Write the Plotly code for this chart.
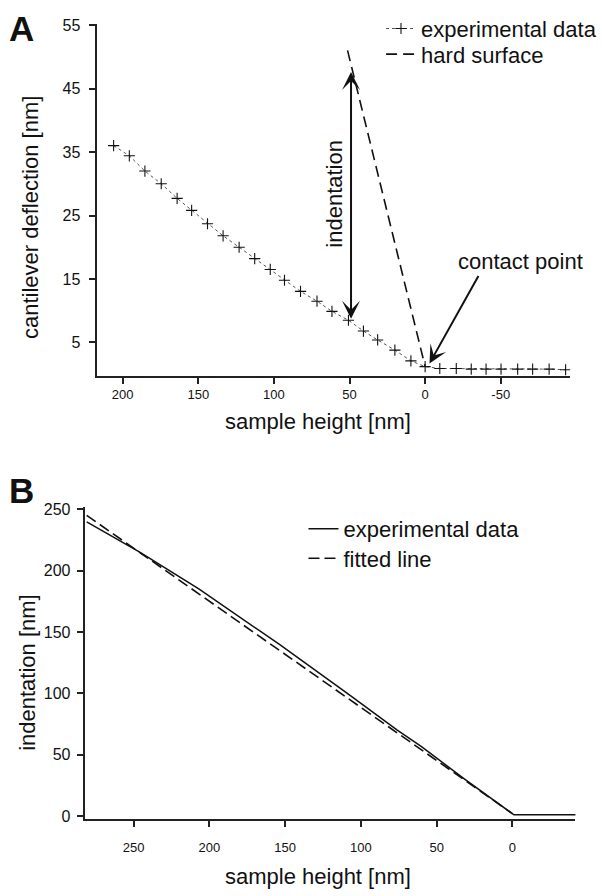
import plotly.graph_objects as go

# ---------------- Panel A data ----------------
a_height = [206, 195.6, 185.3, 174.5, 164, 154.4, 143.9, 133.6, 123, 112.7, 102.4, 93,
            82.4, 71.5, 61.6, 50.7, 40.8, 31.4, 20, 9.4, 0, -9.7, -20.6, -30.5, -40.3,
            -50.2, -61.2, -71.1, -82, -92.9]
a_deflection = [36.0, 34.4, 32.0, 30.0, 27.7, 25.8, 23.7, 21.8, 20.0, 18.2, 16.5, 14.8,
                13.05, 11.5, 9.9, 8.5, 6.8, 5.4, 3.8, 2.1, 1.2, 0.9, 0.9, 0.8, 0.8,
                0.8, 0.8, 0.8, 0.8, 0.7]
hard_height = [51.3, 0]
hard_deflection = [51.0, 1.2]
a_xticks = [200, 150, 100, 50, 0, -50]
a_xticktext = ["200", "150", "100", "50", "0", "-50"]
a_yticks = [5, 15, 25, 35, 45, 55]

# ---------------- Panel B data ----------------
b_height = [281, 246, 207, 174, 154, 108.5, 76, 60, 32, -1, -42]
b_indent = [239.7, 215, 185, 157, 140, 99.5, 70, 56.5, 30.5, 1, 1]
fit_height = [281, 0]
fit_indent = [245, 2]
b_xticks = [250, 200, 150, 100, 50, 0]
b_yticks = [0, 50, 100, 150, 200, 250]

FONT = "Liberation Sans, Arial, Helvetica, sans-serif"
W, H = 602, 896


def px(xp):
    return xp / W


def py(yp):
    return 1 - yp / H


fig = go.Figure()

fig.add_trace(go.Scatter(
    x=a_height, y=a_deflection, mode="lines+markers", name="experimental data",
    line=dict(color="#555555", width=1, dash="dot"),
    marker=dict(symbol="cross-thin", size=8, line=dict(color="#111111", width=1.1)),
    xaxis="x", yaxis="y", legend="legend"))
fig.add_trace(go.Scatter(
    x=hard_height, y=hard_deflection, mode="lines", name="hard surface",
    line=dict(color="#111111", width=1.6, dash="11px,6px"),
    xaxis="x", yaxis="y", legend="legend2"))

fig.add_trace(go.Scatter(
    x=b_height, y=b_indent, mode="lines", name="experimental data",
    line=dict(color="#111111", width=1.5),
    xaxis="x2", yaxis="y2", legend="legend3"))
fig.add_trace(go.Scatter(
    x=fit_height, y=fit_indent, mode="lines", name="fitted line",
    line=dict(color="#111111", width=1.6, dash="11px,5px"),
    xaxis="x2", yaxis="y2", legend="legend4"))

axis_common = dict(showgrid=False, zeroline=False, showline=True, ticks="outside",
                   ticklen=6, tickwidth=1.5, tickcolor="#222", linecolor="#222",
                   linewidth=1.8, mirror=False)


def leg(xp, yp):
    return dict(x=px(xp), y=py(yp), xanchor="left", yanchor="middle",
                font=dict(size=22, family=FONT), bgcolor="rgba(0,0,0,0)",
                itemwidth=30, visible=True)


fig.update_layout(
    width=W, height=H, margin=dict(l=0, r=0, t=0, b=0),
    paper_bgcolor="white", plot_bgcolor="white", showlegend=True,
    font=dict(family=FONT, color="#111111"),
    xaxis=dict(domain=[px(97), px(573)], range=[217.3, -95.9], tickvals=a_xticks,
               ticktext=a_xticktext, tickfont=dict(size=13), anchor="y", **axis_common),
    yaxis=dict(domain=[py(374), py(17)], range=[-0.28, 55.2], tickvals=a_yticks,
               tickfont=dict(size=16), anchor="x", ticklabelstandoff=5, **axis_common),
    xaxis2=dict(domain=[px(85), px(578.3)], range=[282.4, -41.6], tickvals=b_xticks,
                tickfont=dict(size=13), anchor="y2", ticklabelstandoff=9, **axis_common),
    yaxis2=dict(domain=[py(823.3), py(507)], range=[-2.65, 251.6], tickvals=b_yticks,
                tickfont=dict(size=16), anchor="x2", ticklabelstandoff=3, **axis_common),
    legend=leg(383, 22),
    legend2=leg(383, 48),
    legend3=leg(305, 529),
    legend4=leg(305, 559),
)

ann = []
# panel labels
ann.append(dict(text="<b>A</b>", x=px(22), y=py(22), xref="paper", yref="paper",
                showarrow=False, font=dict(size=35, family=FONT), xanchor="center", yanchor="middle"))
ann.append(dict(text="<b>B</b>", x=px(22), y=py(490), xref="paper", yref="paper",
                showarrow=False, font=dict(size=35, family=FONT), xanchor="center", yanchor="middle"))
# axis titles
ann.append(dict(text="sample height [nm]", x=px(320), y=py(420), xref="paper", yref="paper",
                showarrow=False, font=dict(size=22), xanchor="center", yanchor="middle"))
ann.append(dict(text="cantilever deflection [nm]", x=px(30), y=py(213), xref="paper", yref="paper",
                showarrow=False, font=dict(size=22), textangle=-90, xanchor="center", yanchor="middle"))
ann.append(dict(text="sample height [nm]", x=px(320), y=py(881), xref="paper", yref="paper",
                showarrow=False, font=dict(size=22), xanchor="center", yanchor="middle"))
ann.append(dict(text="indentation [nm]", x=px(28), y=py(674), xref="paper", yref="paper",
                showarrow=False, font=dict(size=22), textangle=-90, xanchor="center", yanchor="middle"))
# indentation double arrow
ann.append(dict(x=49, y=47.6, ax=49, ay=8.5, xref="x", yref="y", axref="x", ayref="y",
                text="", showarrow=True, arrowhead=3, startarrowhead=3, arrowside="end+start",
                arrowsize=1.5, startarrowsize=1.5, arrowwidth=2, arrowcolor="#111111"))
ann.append(dict(text="indentation", x=60, y=28.5, xref="x", yref="y", showarrow=False,
                textangle=-90, font=dict(size=22), xanchor="center", yanchor="middle"))
# contact point
ann.append(dict(x=-2.9, y=1.7, ax=-35.8, ay=15.7, xref="x", yref="y", axref="x", ayref="y",
                text="", showarrow=True, arrowhead=3, arrowsize=1.5, arrowwidth=2,
                arrowcolor="#111111"))
ann.append(dict(text="contact point", x=-63, y=17.8, xref="x", yref="y", showarrow=False,
                font=dict(size=22), xanchor="center", yanchor="middle"))
fig.update_layout(annotations=ann)

fig.write_html("out.html", config={"displayModeBar": False},
               post_script="document.body.style.margin='0';document.body.style.overflow='hidden';")
